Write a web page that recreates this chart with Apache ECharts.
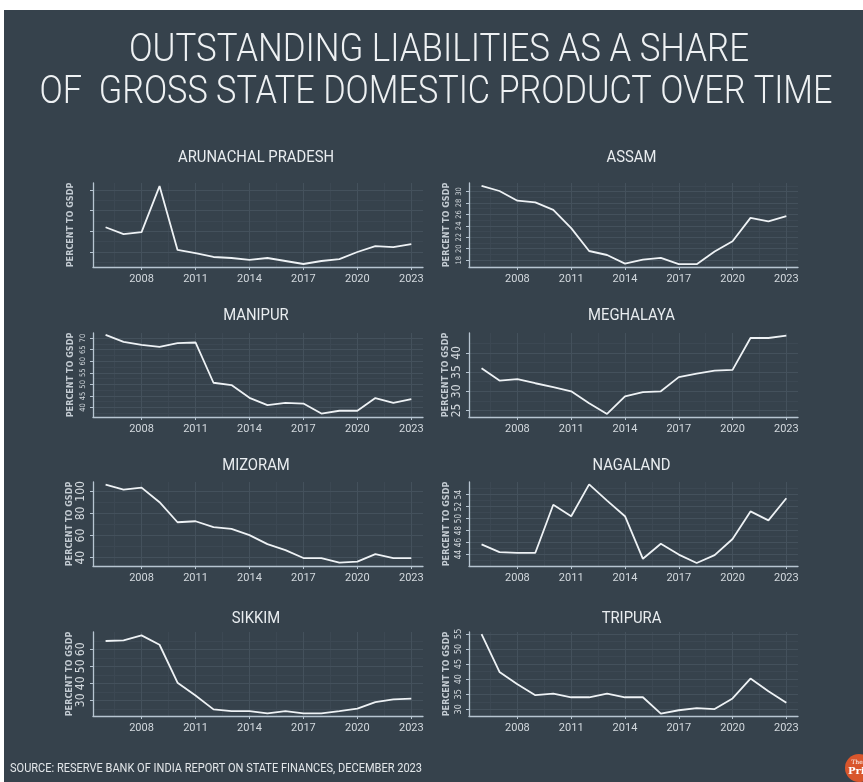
<!DOCTYPE html>
<html>
<head>
<meta charset="utf-8">
<script src="https://cdn.jsdelivr.net/npm/echarts@6/dist/echarts.min.js"></script>
<style>
html,body{margin:0;padding:0;background:#ffffff;}
#chart{width:863px;height:782px;}
</style>
</head>
<body>
<div id="chart"></div>
<script>
// ---------------- DATA ----------------
const years = [2006,2007,2008,2009,2010,2011,2012,2013,2014,2015,2016,2017,2018,2019,2020,2021,2022,2023];
const xTickYears = [2008,2011,2014,2017,2020,2023];
const stateNames = ['ARUNACHAL PRADESH','ASSAM','MANIPUR','MEGHALAYA','MIZORAM','NAGALAND','SIKKIM','TRIPURA'];

const arunachalPradesh = [64.0,57.4,59.3,103.8,42.0,39.0,35.2,34.2,32.3,34.2,31.3,28.4,31.3,33.2,40.0,45.8,44.8,47.7];
const assam     = [31.0,30.1,28.4,28.1,26.8,23.6,19.6,18.9,17.4,18.1,18.4,17.3,17.3,19.5,21.3,25.4,24.8,25.7];
const manipur   = [71.4,68.4,67.1,66.2,67.8,68.1,50.7,49.7,44.2,41.0,42.0,41.7,37.4,38.6,38.6,44.1,42.0,43.6];
const meghalaya = [36.0,32.8,33.2,32.1,31.1,30.0,26.9,24.1,28.7,29.8,30.0,33.7,34.6,35.4,35.6,43.9,43.9,44.5];
const mizoram   = [106.1,101.6,103.4,90.2,72.1,73.0,67.6,66.1,60.4,52.3,46.9,39.7,39.7,35.5,36.4,43.3,39.7,39.7];
const nagaland  = [45.7,44.4,44.3,44.3,52.3,50.4,55.7,53.0,50.4,43.3,45.8,44.0,42.6,43.9,46.6,51.2,49.7,53.4];
const sikkim    = [64.9,65.3,68.2,62.7,40.4,32.9,24.7,23.7,23.7,22.4,23.7,22.4,22.4,23.7,25.1,29.0,30.6,31.0];
const tripura   = [54.9,42.4,38.3,34.7,35.2,34.0,34.0,35.2,34.0,34.0,28.6,29.7,30.4,30.1,33.6,40.2,36.0,32.2];

const arunachalTicks = [40,60,80,100];
const assamTicks     = [18,20,22,24,26,28,30];
const manipurTicks   = [40,45,50,55,60,65,70];
const meghalayaTicks = [25,30,35,40];
const mizoramTicks   = [40,60,80,100];
const nagalandTicks  = [44,46,48,50,52,54];
const sikkimTicks    = [30,40,50,60];
const tripuraTicks   = [30,35,40,45,50,55];

const titleLine1 = 'OUTSTANDING LIABILITIES AS A SHARE';
const titleLine2 = 'OF  GROSS STATE DOMESTIC PRODUCT OVER TIME';
const yAxisName = 'PERCENT TO GSDP';
const sourceText = 'SOURCE: RESERVE BANK OF INDIA REPORT ON STATE FINANCES, DECEMBER 2023';

const seriesValues = [arunachalPradesh, assam, manipur, meghalaya, mizoram, nagaland, sikkim, tripura];
const seriesTicks = [arunachalTicks, assamTicks, manipurTicks, meghalayaTicks, mizoramTicks, nagalandTicks, sikkimTicks, tripuraTicks];

// ---------------- LAYOUT / STYLE ----------------
const yRanges = [[25.5,106.8],[16.8,31.5],[35.9,72.2],[23.3,45.2],[32.5,108.5],[42.1,56.1],[20.8,70.2],[27.8,55.6]];
const yLabelShow = [false,true,true,true,true,true,true,true];
const yLabelSizeNarrow = [8,7.5,7.5,12,12,8,12,9];
const yLabelSizeWide   = [8,7,7,11,11,7.5,11,8.5];
const colLeft = [93,469];
const colWidth = [330,329];
const rowTop = [183,333,482,632];
const plotHeight = 84;
const panelTitleY = [158,316,466,619];
const xMin = 2005.3, xMax = 2023.65;

const BG = '#36424c';
const LINE = '#eef2f5';
const AXIS = '#b7c5d1';
const MAJOR = '#44515c';
const MINOR = '#3c4853';
const LABEL = '#d3d9de';
const FONT = 'Roboto, "DejaVu Sans", sans-serif';

const measureCtx = document.createElement('canvas').getContext('2d');
function textWidth(text, font) { measureCtx.font = font; return measureCtx.measureText(text).width; }
function fontAvailable(name) {
  const s = 'PERCENT 0123456789 GSDP';
  return textWidth(s, '40px "' + name + '", monospace') !== textWidth(s, '40px monospace') &&
         textWidth(s, '40px "' + name + '", serif') !== textWidth(s, '40px serif');
}
const condCandidates = ['Liberation Sans Narrow', 'DejaVu Sans Condensed', 'Roboto Condensed', 'Open Sans Condensed'];
let NARROW = null;
for (const c of condCandidates) { if (fontAvailable(c)) { NARROW = c; break; } }
const NARROW_FONT = NARROW ? '"' + NARROW + '", ' + FONT : FONT;
const yLabelSize = NARROW ? yLabelSizeNarrow : yLabelSizeWide;

function minorsOf(ticks, lo, hi) {
  const step = ticks.length > 1 ? ticks[1] - ticks[0] : 1;
  const out = [];
  const all = [ticks[0] - step].concat(ticks, [ticks[ticks.length - 1] + step]);
  for (let k = 0; k + 1 < all.length; k++) {
    const m = (all[k] + all[k + 1]) / 2;
    if (m >= lo && m <= hi) out.push(m);
  }
  return out;
}

const grids = [], xAxes = [], yAxes = [], series = [], graphics = [];

for (let i = 0; i < 8; i++) {
  const col = i % 2, row = Math.floor(i / 2);
  grids.push({ left: colLeft[col], top: rowTop[row], width: colWidth[col], height: plotHeight,
    containLabel: false, outerBoundsMode: 'none' });
  const xMinor = minorsOf(xTickYears, xMin, xMax);
  const [yLo, yHi] = yRanges[i];
  const yMinor = minorsOf(seriesTicks[i], yLo, yHi);

  xAxes.push({
    type: 'value', gridIndex: i, min: xMin, max: xMax, position: 'bottom', z: 3,
    axisLine: { show: true, onZero: false, lineStyle: { color: AXIS, width: 1.3 } },
    axisTick: { show: true, length: 3, customValues: xTickYears, lineStyle: { color: AXIS, width: 1 } },
    axisLabel: { show: true, customValues: xTickYears, formatter: v => String(v), color: LABEL,
      fontSize: 11, fontFamily: FONT, margin: 7 },
    splitLine: { show: true, lineStyle: { color: MAJOR, width: 1 } },
    minorTick: { show: false }, minorSplitLine: { show: false }
  });
  xAxes.push({
    type: 'value', gridIndex: i, min: xMin, max: xMax, position: 'top', z: 1,
    axisLine: { show: false }, axisTick: { show: false, customValues: xMinor },
    axisLabel: { show: false, customValues: xMinor },
    splitLine: { show: true, lineStyle: { color: MINOR, width: 1 } }
  });
  yAxes.push({
    type: 'value', gridIndex: i, min: yLo, max: yHi, position: 'left', z: 3,
    name: yAxisName, nameLocation: 'middle', nameRotate: 90, nameGap: 18,
    nameTextStyle: { color: '#c3cbd2', fontSize: 9, fontFamily: NARROW_FONT, fontWeight: NARROW ? 'bold' : 'normal' },
    axisLine: { show: true, onZero: false, lineStyle: { color: AXIS, width: 1.3 } },
    axisTick: { show: true, length: 3, customValues: seriesTicks[i], lineStyle: { color: AXIS, width: 1 } },
    axisLabel: { show: yLabelShow[i], customValues: seriesTicks[i], rotate: 90, formatter: v => String(v),
      color: LABEL, fontSize: yLabelSize[i], fontFamily: NARROW_FONT, margin: 6 },
    splitLine: { show: true, lineStyle: { color: MAJOR, width: 1 } },
    minorTick: { show: false }, minorSplitLine: { show: false }
  });
  yAxes.push({
    type: 'value', gridIndex: i, min: yLo, max: yHi, position: 'right', z: 1,
    axisLine: { show: false }, axisTick: { show: false, customValues: yMinor },
    axisLabel: { show: false, customValues: yMinor },
    splitLine: { show: true, lineStyle: { color: MINOR, width: 1 } }
  });

  series.push({
    type: 'line', name: stateNames[i], xAxisIndex: 2 * i, yAxisIndex: 2 * i,
    data: years.map((yr, k) => [yr, seriesValues[i][k]]),
    showSymbol: false, symbol: 'none', smooth: false, silent: true, z: 5,
    lineStyle: { color: LINE, width: 1.8 }
  });
}

const titleFont1 = '300 38px Roboto';
const sT1 = 620 / textWidth(titleLine1, titleFont1);
const sT2 = 793 / textWidth(titleLine2, titleFont1);
graphics.push({ type: 'rect', shape: { x: 0, y: 0, width: 863, height: 10 }, style: { fill: '#ffffff' }, silent: true });
graphics.push({ type: 'rect', shape: { x: 0, y: 0, width: 4, height: 782 }, style: { fill: '#ffffff' }, silent: true });
graphics.push({ type: 'text', x: 439, y: 51, scaleX: sT1,
  style: { text: titleLine1, fontFamily: 'Roboto', fontWeight: 300, fontSize: 38, fill: '#eef1f3', align: 'center', verticalAlign: 'middle' } });
graphics.push({ type: 'text', x: 436, y: 93.5, scaleX: sT2,
  style: { text: titleLine2, fontFamily: 'Roboto', fontWeight: 300, fontSize: 38, fill: '#eef1f3', align: 'center', verticalAlign: 'middle' } });

const panelFont = '400 16px Roboto';
const sP = 156 / textWidth(stateNames[0], panelFont);
for (let i = 0; i < 8; i++) {
  const col = i % 2, row = Math.floor(i / 2);
  graphics.push({ type: 'text', x: colLeft[col] + colWidth[col] / 2 - 2, y: panelTitleY[row], scaleX: sP,
    style: { text: stateNames[i], fontFamily: 'Roboto', fontWeight: 400, fontSize: 16, fill: '#e9edf0', align: 'center', verticalAlign: 'middle' } });
}

const srcFont = '400 13px Roboto';
const sS = 412 / textWidth(sourceText, srcFont);
graphics.push({ type: 'text', x: 10, y: 769, scaleX: sS,
  style: { text: sourceText, fontFamily: 'Roboto', fontWeight: 400, fontSize: 13, fill: '#e3e7ea', align: 'left', verticalAlign: 'middle' } });

graphics.push({ type: 'circle', shape: { cx: 859, cy: 768, r: 14 }, style: { fill: '#d9562c' }, silent: true });
graphics.push({ type: 'text', x: 857, y: 762, style: { text: 'The', fontFamily: '"DejaVu Serif", serif', fontSize: 6, fill: '#ffffff', align: 'center', verticalAlign: 'middle' } });
graphics.push({ type: 'text', x: 848, y: 771, style: { text: 'Print', fontFamily: '"DejaVu Serif", serif', fontWeight: 'bold', fontSize: 10, fill: '#ffffff', align: 'left', verticalAlign: 'middle' } });

const chart = echarts.init(document.getElementById('chart'), null, { renderer: 'canvas' });
chart.setOption({
  backgroundColor: BG,
  animation: false,
  grid: grids,
  xAxis: xAxes,
  yAxis: yAxes,
  series: series,
  graphic: { elements: graphics }
});
</script>
</body>
</html>
